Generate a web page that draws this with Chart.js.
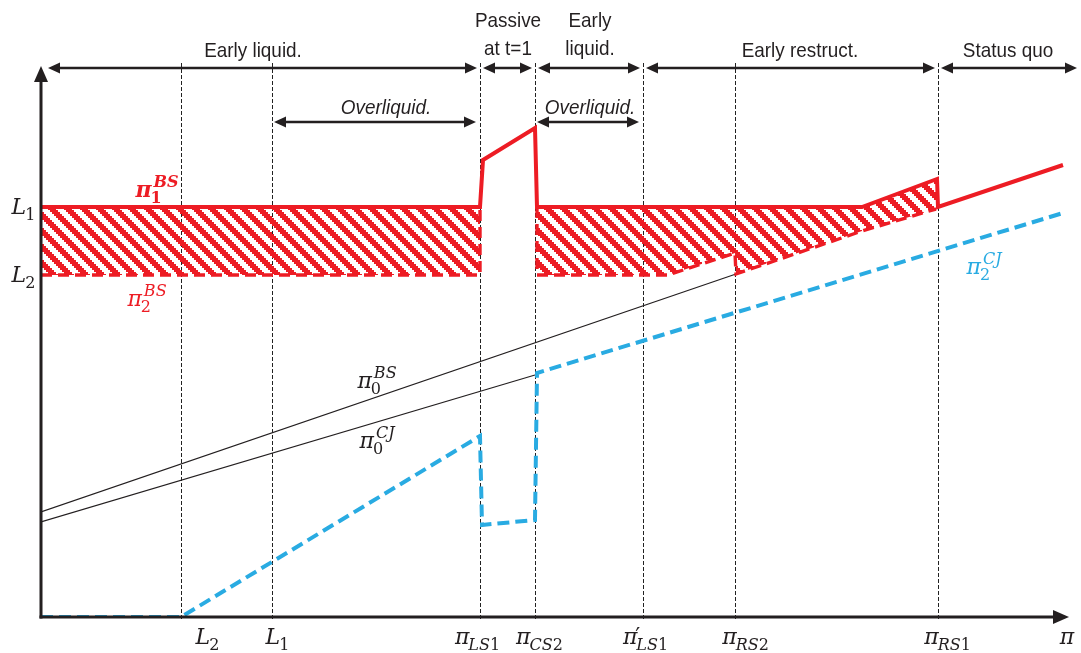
<!DOCTYPE html>
<html><head><meta charset="utf-8">
<script src="https://cdn.jsdelivr.net/npm/chart.js@4.4.1/dist/chart.umd.min.js"></script>
<style>html,body{margin:0;padding:0;background:#fff;overflow:hidden}#wrap{width:1081px;height:653px;position:relative}</style>
</head><body><div id="wrap"><canvas id="c"></canvas></div>
<script>
// ---------------- data (abstract units: x = profitability π, y = payoff) ----------------
const xMax = 1027, yMax = 550;
const guideX = [140, 231, 439, 494, 602, 694, 897];            // L2, L1, πLS1, πCS2, π'LS1, πRS2, πRS1
const tickLabels = [
  {base:'L', sub:'2'}, {base:'L', sub:'1'}, {base:'π', sub:'LS1'}, {base:'π', sub:'CS2'},
  {base:'π', sub:'LS1', prime:true}, {base:'π', sub:'RS2'}, {base:'π', sub:'RS1'}, {base:'π'}
];
const tickLabelX = [167, 237, 437, 499, 605, 705, 907, 1026];
const levelValues = [410, 342];                                  // L1, L2
const levelLabels = [{base:'L', sub:'1'}, {base:'L', sub:'2'}];

const pi1BS  = [[0,410],[439,410],[442,457],[494,489],[496,410],[821,410],[896,438],[897,410],[1022,452]];
const pi2BS_a = [[0,342],[439,342],[439,410]];
const pi2BS_b = [[496,410],[496,342],[627,342],[694,364],[695,343],[821,386],[895,408]];
const pi0BS  = [[0,105],[695,343]];
const pi0CJ  = [[0,95],[494,242]];
const pi2CJ  = [[0,0],[140,0],[439,181],[441,92],[494,97],[496,244],[1022,404]];

const periodNames  = ['Early liquid.', 'Passive|at t=1', 'Early|liquid.', 'Early restruct.', 'Status quo'];
const periodBounds = [0, 439, 494, 602, 897, 1039];
const periodLabelX = [212, 467, 549, 759, 967];
const overBounds   = [[231, 439], [494, 602]];
const overLabelX   = [345, 549];

const curveLabels = [
  {base:'π', sub:'1', sup:'BS', x:116, y:420, color:'#ED1C24', bold:true},
  {base:'π', sub:'2', sup:'BS', x:106, y:311, color:'#ED1C24'},
  {base:'π', sub:'0', sup:'BS', x:336, y:229, color:'#231F20'},
  {base:'π', sub:'0', sup:'CJ', x:336, y:169, color:'#231F20'},
  {base:'π', sub:'2', sup:'CJ', x:943, y:343, color:'#29ABE2'}
];

// hatch regions built from the two BS curves
const hatchA = pi1BS.slice(0, 2).concat(pi2BS_a.slice(0, 2).reverse());
const hatchB = pi1BS.slice(4, 7).concat(pi2BS_b.slice().reverse());

// ---------------- styling ----------------
const RED = '#ED1C24', BLUE = '#29ABE2', INK = '#231F20';
function makeHatch() {
  const c = document.createElement('canvas'); c.width = 16; c.height = 16;
  const g = c.getContext('2d'); g.fillStyle = RED;
  for (let r = 0; r < 8; r++) for (let k = 0; k < 4; k++) {
    const col = (r + k) % 8; g.fillRect(col * 2, r * 2, 2, 2);
  }
  return g.createPattern(c, 'repeat');
}
const hatch = makeHatch();
const pts = a => a.map(p => ({x: p[0], y: p[1]}));
const base = {pointRadius: 0, tension: 0, fill: false};

const datasets = [
  Object.assign({}, base, {label:'hatchA', data: pts(hatchA), borderWidth: 0, backgroundColor: hatch, fill: 'shape', order: 20}),
  Object.assign({}, base, {label:'hatchB', data: pts(hatchB), borderWidth: 0, backgroundColor: hatch, fill: 'shape', order: 20}),
  Object.assign({}, base, {label:'π0BS', data: pts(pi0BS), borderColor: INK, borderWidth: 1.2, order: 10}),
  Object.assign({}, base, {label:'π0CJ', data: pts(pi0CJ), borderColor: INK, borderWidth: 1.2, order: 10}),
  Object.assign({}, base, {label:'π2BS a', data: pts(pi2BS_a), borderColor: RED, borderWidth: 3.4, borderDash: [11, 6], order: 5}),
  Object.assign({}, base, {label:'π2BS b', data: pts(pi2BS_b), borderColor: RED, borderWidth: 3.4, borderDash: [11, 6], order: 5}),
  Object.assign({}, base, {label:'π1BS', data: pts(pi1BS), borderColor: RED, borderWidth: 4, order: 3}),
  Object.assign({}, base, {label:'π2CJ', data: pts(pi2CJ), borderColor: BLUE, borderWidth: 4, borderDash: [12, 6], order: 2})
];

// ---------------- drawing helpers ----------------
const SERIF = '"DejaVu Serif", "Liberation Serif", serif';
function runWidth(ctx, s, size, bold) {
  let w = 0;
  for (const ch of s) {
    const it = /[A-Za-zπ]/.test(ch);
    ctx.font = (it ? 'italic ' : '') + (bold ? 'bold ' : '') + size + 'px ' + SERIF;
    w += ctx.measureText(ch).width;
  }
  return w;
}
function drawRun(ctx, s, x, y, size, bold) {
  for (const ch of s) {
    const it = /[A-Za-zπ]/.test(ch);
    ctx.font = (it ? 'italic ' : '') + (bold ? 'bold ' : '') + size + 'px ' + SERIF;
    ctx.fillText(ch, x, y);
    x += ctx.measureText(ch).width;
  }
  return x;
}
function drawMath(ctx, cx, by, m, size, color) {
  const ss = Math.round(size * 0.72);
  ctx.fillStyle = color; ctx.textAlign = 'left'; ctx.textBaseline = 'alphabetic';
  const wb = runWidth(ctx, m.base, size, m.bold);
  const wsub = m.sub ? runWidth(ctx, m.sub, ss, m.bold) : 0;
  const wsup = m.sup ? runWidth(ctx, m.sup, ss, m.bold) + 2 : 0;
  const total = wb + Math.max(wsub, wsup);
  const x0 = cx - total / 2;
  drawRun(ctx, m.base, x0, by, size, m.bold);
  if (m.sub) drawRun(ctx, m.sub, x0 + wb - 1, by + size * 0.25, ss, m.bold);
  if (m.sup) drawRun(ctx, m.sup, x0 + wb + 2, by - size * 0.45, ss, m.bold);
  if (m.prime) { ctx.font = size + 'px ' + SERIF; ctx.fillText('\u2032', x0 + wb - 2, by - 1); }
}
function arrowHead(ctx, x, y, dir) {
  ctx.beginPath(); ctx.moveTo(x, y); ctx.lineTo(x - dir * 12, y - 5.5); ctx.lineTo(x - dir * 12, y + 5.5); ctx.closePath(); ctx.fill();
}
function dArrow(ctx, x1, x2, y) {
  ctx.strokeStyle = INK; ctx.fillStyle = INK; ctx.lineWidth = 2.4; ctx.setLineDash([]);
  ctx.beginPath(); ctx.moveTo(x1 + 8, y); ctx.lineTo(x2 - 8, y); ctx.stroke();
  arrowHead(ctx, x1, y, -1); arrowHead(ctx, x2, y, 1);
}
function condensedText(ctx, s, cx, by, italic) {
  ctx.save();
  ctx.font = (italic ? 'italic ' : '') + '21px "Liberation Sans", Arial, sans-serif';
  ctx.textAlign = 'center'; ctx.textBaseline = 'alphabetic'; ctx.fillStyle = INK;
  ctx.translate(cx, by); ctx.scale(0.9, 1);
  ctx.fillText(s, 0, 0);
  ctx.restore();
}

const diagram = {
  id: 'diagram',
  beforeDatasetsDraw(chart) {
    const {ctx, scales: {x, y}} = chart;
    ctx.save();
    ctx.strokeStyle = '#222'; ctx.lineWidth = 1; ctx.setLineDash([4, 2]);
    for (const gx of guideX) {
      const px = Math.round(x.getPixelForValue(gx)) + 0.5;
      ctx.beginPath(); ctx.moveTo(px, y.getPixelForValue(yMax + 4)); ctx.lineTo(px, y.getPixelForValue(-3)); ctx.stroke();
    }
    ctx.restore();
  },
  afterDatasetsDraw(chart) {
    const {ctx, scales: {x, y}} = chart;
    const ox = x.getPixelForValue(0), oy = y.getPixelForValue(0);
    ctx.save();
    ctx.strokeStyle = INK; ctx.fillStyle = INK; ctx.lineWidth = 3; ctx.setLineDash([]);
    const top = y.getPixelForValue(yMax), right = x.getPixelForValue(xMax);
    ctx.beginPath(); ctx.moveTo(ox, oy + 1.5); ctx.lineTo(ox, top + 12); ctx.stroke();
    ctx.beginPath(); ctx.moveTo(ox - 1.5, oy); ctx.lineTo(right - 12, oy); ctx.stroke();
    ctx.beginPath(); ctx.moveTo(ox, top - 1); ctx.lineTo(ox - 7, top + 15); ctx.lineTo(ox + 7, top + 15); ctx.closePath(); ctx.fill();
    ctx.beginPath(); ctx.moveTo(right + 1, oy); ctx.lineTo(right - 15, oy - 7); ctx.lineTo(right - 15, oy + 7); ctx.closePath(); ctx.fill();
    ctx.restore();
  },
  afterDraw(chart) {
    const {ctx, scales: {x, y}} = chart;
    ctx.save();
    // period arrows
    const ay = y.getPixelForValue(yMax - 1);
    for (let i = 0; i < periodNames.length; i++) {
      const a = x.getPixelForValue(periodBounds[i]) + (i === 0 ? 7 : 3);
      const b = x.getPixelForValue(periodBounds[i + 1]) - 3;
      dArrow(ctx, a, b, ay);
      const lines = periodNames[i].split('|');
      const lx = x.getPixelForValue(periodLabelX[i]);
      if (lines.length === 1) condensedText(ctx, lines[0], lx, ay - 11, false);
      else { condensedText(ctx, lines[0], lx, ay - 41, false); condensedText(ctx, lines[1], lx, ay - 13, false); }
    }
    const oy2 = y.getPixelForValue(yMax - 55);
    for (let i = 0; i < overBounds.length; i++) {
      const a = x.getPixelForValue(overBounds[i][0]) + 2;
      const b = x.getPixelForValue(overBounds[i][1]) - 4;
      dArrow(ctx, a, b, oy2);
      condensedText(ctx, 'Overliquid.', x.getPixelForValue(overLabelX[i]), oy2 - 8, true);
    }
    // x labels
    const ly = y.getPixelForValue(0) + 27;
    tickLabels.forEach((m, i) => drawMath(ctx, x.getPixelForValue(tickLabelX[i]), ly, m, 22, INK));
    // y labels
    levelValues.forEach((v, i) => drawMath(ctx, 24, y.getPixelForValue(v) + 7, levelLabels[i], 22, INK));
    // curve labels
    curveLabels.forEach(c => drawMath(ctx, x.getPixelForValue(c.x), y.getPixelForValue(c.y), c, 22, c.color));
    ctx.restore();
  }
};

new Chart(document.getElementById('c'), {
  type: 'line',
  data: {datasets},
  options: {
    responsive: true, maintainAspectRatio: false, animation: false, devicePixelRatio: 1,
    layout: {padding: {left: 41, right: 13, top: 67, bottom: 36}},
    plugins: {legend: {display: false}, tooltip: {enabled: false}},
    events: [],
    scales: {
      x: {type: 'linear', min: 0, max: xMax, display: false},
      y: {type: 'linear', min: 0, max: yMax, display: false}
    }
  },
  plugins: [diagram]
});
</script></body></html>
